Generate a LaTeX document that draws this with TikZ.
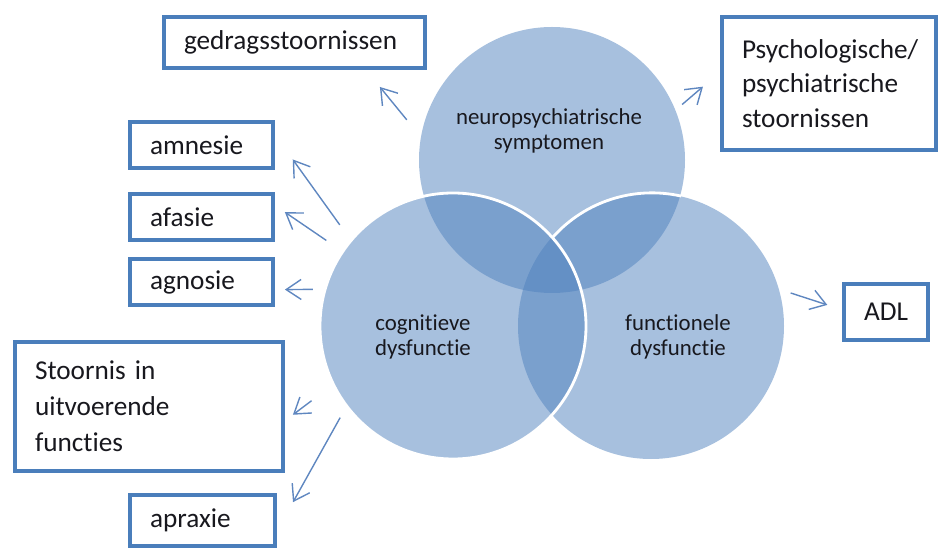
\documentclass[tikz,border=0pt]{standalone}
\usepackage{fontspec}
\setmainfont[Ligatures=NoCommon]{Carlito}
\usepackage{tikz}
\usetikzlibrary{arrows.meta}
\definecolor{venn}{RGB}{79,129,189}
\definecolor{rand}{RGB}{74,126,187}
\definecolor{pijlkl}{RGB}{95,135,192}
\definecolor{tekst}{RGB}{24,24,30}

\begin{document}
\begin{tikzpicture}[
	cirkel/.style={circle,fill=venn,fill opacity=0.5,minimum size=5.32cm,inner sep=0pt},
	rim/.style={white,line width=1.6pt},
	kader/.style={draw=rand,line width=2.2pt,fill=white,text=tekst,align=left,
		font=\fontsize{15.5}{19.5}\selectfont,inner xsep=0.4cm,inner ysep=0pt},
	ctekst/.style={text=tekst,align=center,font=\fontsize{13}{14.5}\selectfont},
	pijl/.style={draw=pijlkl,line width=0.8pt,-{Straight Barb[length=3mm,width=4mm]}}]
\useasboundingbox (0,0) rectangle (18.84,11.02);

% de drie cirkels
\node[cirkel] (neu) at (11.04,7.82) {};
\node[cirkel] (fun) at (13.02,4.50) {};
\node[cirkel] (cog) at (9.06,4.50) {};
\draw[rim] (fun.77.4) arc[start angle=77.4,end angle=138.1,radius=2.66cm];
\draw[rim] (cog) circle (2.66cm);

\node[ctekst] (neutxt) at (10.98,8.40) {neuropsychiatrische\\symptomen};
\node[ctekst] (cogtxt) at (8.46,4.28) {cognitieve\\dysfunctie};
\node[ctekst] (funtxt) at (13.56,4.28) {functionele\\dysfunctie};

% kaders
\node[kader,text width=4.42cm,minimum height=1.02cm] (ged) at (5.89,10.17) {gedragsstoornissen};
\node[kader,text width=3.48cm,minimum height=2.66cm] (psy) at (16.58,9.35) {Psychologische/\\psychiatrische\\stoornissen};
\node[kader,text width=2.06cm,minimum height=0.92cm] (amn) at (4.03,8.12) {amnesie};
\node[kader,text width=2.06cm,minimum height=0.92cm] (afa) at (4.03,6.68) {afasie};
\node[kader,text width=2.06cm,minimum height=0.92cm] (agn) at (4.03,5.38) {agnosie};
\node[kader,text width=4.56cm,minimum height=2.58cm,font=\fontsize{15.5}{20.5}\selectfont] (sto) at (2.98,2.89) {Stoornis in\\uitvoerende\\functies};
\node[kader,text width=2.10cm,minimum height=1.02cm] (apr) at (4.05,0.61) {apraxie};
\node[kader,align=center,minimum width=1.68cm,minimum height=1.12cm,inner xsep=0pt] (adl) at (17.72,4.78) {ADL};

% pijlen
\draw[pijl,shorten <=0.44cm,shorten >=0.44cm] (neu.170) -- (ged.-21);
\draw[pijl,shorten <=0.17cm,shorten >=0.45cm] (neu.22) -- (psy.174);
\draw[pijl,shorten <=0.38cm,shorten >=0.61cm] (cog.140) -- (amn.8);
\draw[pijl,shorten <=0.39cm,shorten >=0.24cm] (cog.146) -- (afa.9);
\draw[pijl,shorten <=0.24cm,shorten >=0.20cm] (cog.164) -- (agn.-6);
\draw[pijl,shorten <=0.54cm,shorten >=0.20cm] (cog.206) -- (sto.-6);
\draw[pijl,shorten <=0.26cm,shorten >=0.66cm] (cog.217) -- (apr.-8);
\draw[pijl,shorten <=0.24cm,shorten >=0.31cm] (fun.16) -- (adl.177);

\end{tikzpicture}
\end{document}
